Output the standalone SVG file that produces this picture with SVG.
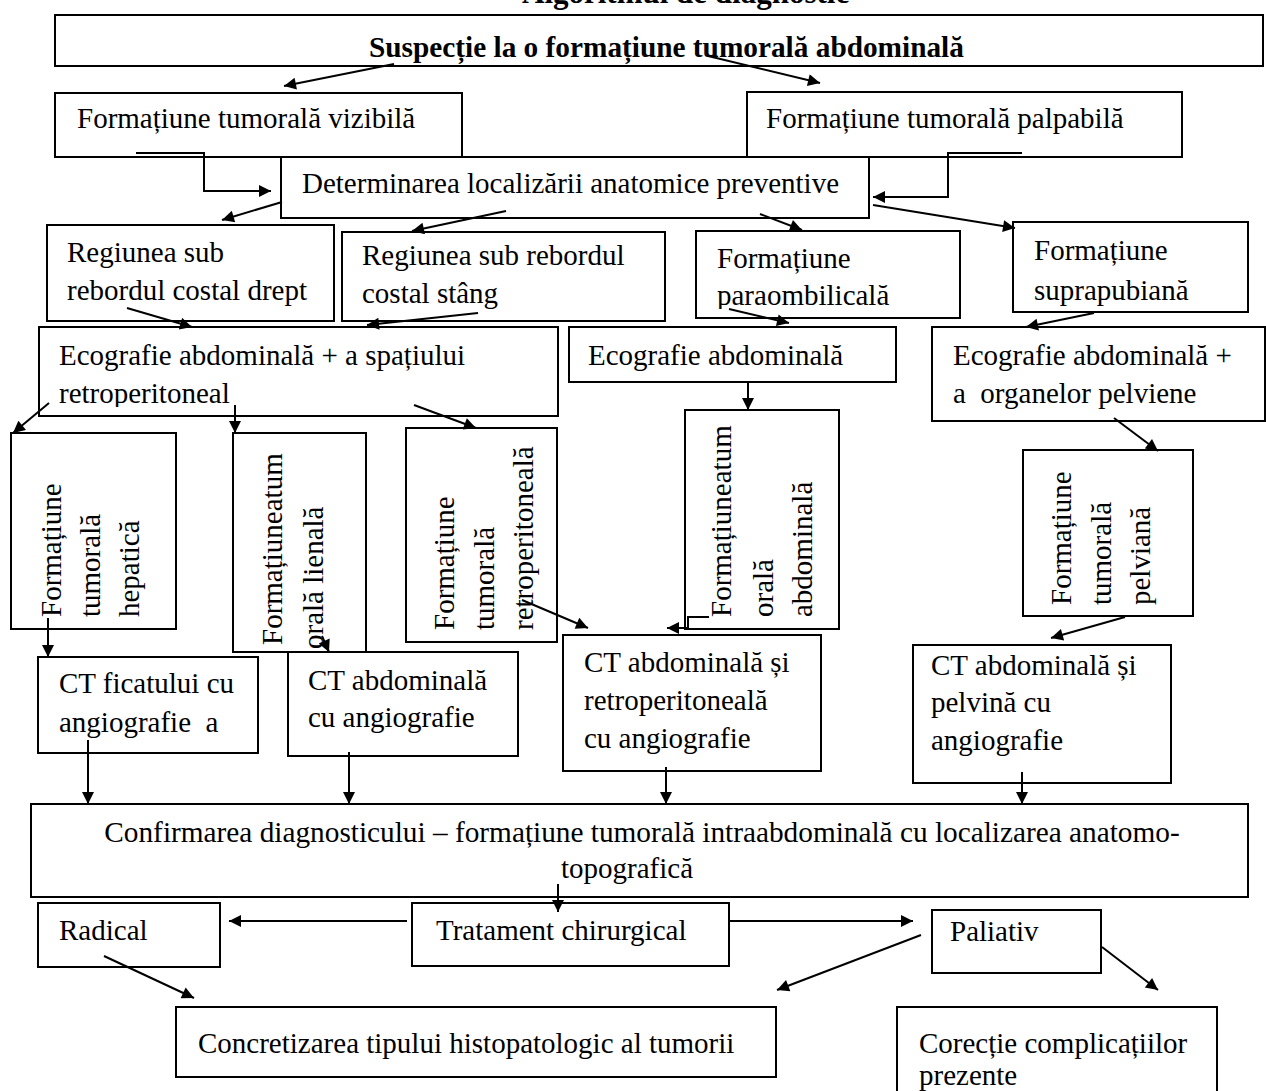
<svg xmlns="http://www.w3.org/2000/svg" width="1266" height="1091" viewBox="0 0 1266 1091">
<style>
.b{fill:#fff;stroke:#000;stroke-width:2}
.t{font-family:"Liberation Serif","Times New Roman",serif;font-size:29px;fill:#000}
.tb{font-family:"Liberation Serif","Times New Roman",serif;font-size:29px;font-weight:bold;fill:#000}
.c{fill:none;stroke:#000;stroke-width:2}
</style>
<defs>
<marker id="ah" viewBox="0 0 10 10" refX="10" refY="5" markerWidth="15" markerHeight="12" markerUnits="userSpaceOnUse" orient="auto"><path d="M0,0 L10,5 L0,10 z" fill="#000"/></marker>
<clipPath id="clipPara"><rect x="696" y="231" width="264" height="78"/></clipPath>
<clipPath id="clipRetro"><rect x="39" y="327" width="519" height="80"/></clipPath>
</defs>
<rect width="1266" height="1091" fill="#fff"/>
<text class="tb" x="522" y="3" style="font-size:31px">Algoritmul de diagnostic</text>

<g id="n-suspectie"><rect class="b" x="55" y="15" width="1208" height="51"/><text class="tb" x="369" y="57" style="font-size:29.3px">Suspecție la o formațiune tumorală abdominală</text></g>
<g id="n-vizibila"><rect class="b" x="55" y="93" width="407" height="64"/><text class="t" x="77" y="128">Formațiune tumorală vizibilă</text></g>
<g id="n-palpabila"><rect class="b" x="747" y="92" width="435" height="65"/><text class="t" x="766" y="128">Formațiune tumorală palpabilă</text></g>
<g id="n-determinarea"><rect class="b" x="281" y="157" width="588" height="61"/><text class="t" x="302" y="193">Determinarea localizării anatomice preventive</text></g>

<g id="n-reg-drept"><rect class="b" x="47" y="225" width="287" height="96"/><text class="t" x="67" y="262">Regiunea sub</text><text class="t" x="67" y="300">rebordul costal drept</text></g>
<g id="n-reg-stang"><rect class="b" x="342" y="232" width="323" height="89"/><text class="t" x="362" y="265">Regiunea sub rebordul</text><text class="t" x="362" y="303">costal stâng</text></g>
<g id="n-paraomb"><rect class="b" x="696" y="231" width="264" height="87"/><g clip-path="url(#clipPara)"><text class="t" x="717" y="268">Formațiune</text><text class="t" x="717" y="305">paraombilicală</text></g></g>
<g id="n-suprapub"><rect class="b" x="1013" y="222" width="235" height="90"/><text class="t" x="1034" y="260">Formațiune</text><text class="t" x="1034" y="300">suprapubiană</text></g>

<g id="n-eco-retro"><rect class="b" x="39" y="327" width="519" height="89"/><g clip-path="url(#clipRetro)"><text class="t" x="59" y="365">Ecografie abdominală + a spațiului</text><text class="t" x="59" y="403">retroperitoneal</text></g></g>
<g id="n-eco-abd"><rect class="b" x="569" y="327" width="327" height="55"/><text class="t" x="588" y="365">Ecografie abdominală</text></g>
<g id="n-eco-pelv"><rect class="b" x="932" y="327" width="333" height="94"/><text class="t" x="953" y="365">Ecografie abdominală +</text><text class="t" x="953" y="403" xml:space="preserve">a  organelor pelviene</text></g>

<g id="n-hepatica"><rect class="b" x="11" y="433" width="165" height="196"/><text class="t" transform="translate(61,617) rotate(-90)">Formațiune</text><text class="t" transform="translate(100,617) rotate(-90)">tumorală</text><text class="t" transform="translate(139,617) rotate(-90)">hepatică</text></g>
<g id="n-lienala"><rect class="b" x="233" y="433" width="133" height="219"/><text class="t" transform="translate(282,645) rotate(-90)">Formațiuneatum</text><text class="t" transform="translate(323,649) rotate(-90)">orală lienală</text></g>
<g id="n-retroperit"><rect class="b" x="406" y="428" width="151" height="214"/><text class="t" transform="translate(454,630) rotate(-90)">Formațiune</text><text class="t" transform="translate(494,630) rotate(-90)">tumorală</text><text class="t" transform="translate(533,630) rotate(-90)">retroperitoneală</text></g>
<g id="n-abdominala"><rect class="b" x="685" y="410" width="154" height="219"/><text class="t" transform="translate(731,617) rotate(-90)">Formațiuneatum</text><text class="t" transform="translate(773,617) rotate(-90)">orală</text><text class="t" transform="translate(812,617) rotate(-90)">abdominală</text></g>
<g id="n-pelviana"><rect class="b" x="1023" y="450" width="170" height="166"/><text class="t" transform="translate(1071,605) rotate(-90)">Formațiune</text><text class="t" transform="translate(1111,605) rotate(-90)">tumorală</text><text class="t" transform="translate(1150,605) rotate(-90)">pelviană</text></g>

<g id="n-ct-ficat"><rect class="b" x="38" y="657" width="220" height="96"/><text class="t" x="59" y="693">CT ficatului cu</text><text class="t" x="59" y="732" xml:space="preserve">angiografie  a</text></g>
<g id="n-ct-abd"><rect class="b" x="288" y="652" width="230" height="104"/><text class="t" x="308" y="690">CT abdominală</text><text class="t" x="308" y="727">cu angiografie</text></g>
<g id="n-ct-retro"><rect class="b" x="563" y="635" width="258" height="136"/><text class="t" x="584" y="672">CT abdominală și</text><text class="t" x="584" y="710">retroperitoneală</text><text class="t" x="584" y="748">cu angiografie</text></g>
<g id="n-ct-pelv"><rect class="b" x="913" y="645" width="258" height="138"/><text class="t" x="931" y="675">CT abdominală și</text><text class="t" x="931" y="712">pelvină cu</text><text class="t" x="931" y="750">angiografie</text></g>

<g id="n-confirmare"><rect class="b" x="31" y="804" width="1217" height="93"/><text class="t" x="642" y="842" text-anchor="middle" style="font-size:29.3px">Confirmarea diagnosticului – formațiune tumorală intraabdominală cu localizarea anatomo-</text><text class="t" x="627" y="878" text-anchor="middle">topografică</text></g>

<g id="n-radical"><rect class="b" x="38" y="903" width="182" height="64"/><text class="t" x="59" y="940">Radical</text></g>
<g id="n-tratament"><rect class="b" x="412" y="903" width="317" height="63"/><text class="t" x="436" y="940">Tratament chirurgical</text></g>
<g id="n-paliativ"><rect class="b" x="932" y="910" width="169" height="63"/><text class="t" x="950" y="941">Paliativ</text></g>
<g id="n-concretizare"><rect class="b" x="176" y="1007" width="600" height="70"/><text class="t" x="198" y="1053">Concretizarea tipului histopatologic al tumorii</text></g>
<g id="n-corectie"><rect class="b" x="897" y="1007" width="320" height="90"/><text class="t" x="919" y="1053">Corecție complicațiilor</text><text class="t" x="919" y="1085">prezente</text></g>

<g id="connectors">
<line class="c" x1="394" y1="64" x2="284" y2="86" marker-end="url(#ah)"/>
<line class="c" x1="708" y1="56" x2="820" y2="83" marker-end="url(#ah)"/>
<polyline class="c" points="136,153 204,153 204,191 271,191" marker-end="url(#ah)"/>
<polyline class="c" points="1022,153 948,153 948,197 873,197" marker-end="url(#ah)"/>
<line class="c" x1="282" y1="202" x2="222" y2="220" marker-end="url(#ah)"/>
<line class="c" x1="506" y1="211" x2="412" y2="231" marker-end="url(#ah)"/>
<line class="c" x1="760" y1="214" x2="802" y2="230" marker-end="url(#ah)"/>
<line class="c" x1="873" y1="205" x2="1015" y2="228" marker-end="url(#ah)"/>
<line class="c" x1="127" y1="308" x2="192" y2="327" marker-end="url(#ah)"/>
<line class="c" x1="478" y1="313" x2="367" y2="325" marker-end="url(#ah)"/>
<line class="c" x1="729" y1="309" x2="789" y2="323" marker-end="url(#ah)"/>
<line class="c" x1="1094" y1="313" x2="1026" y2="327" marker-end="url(#ah)"/>
<line class="c" x1="49" y1="403" x2="13" y2="433" marker-end="url(#ah)"/>
<line class="c" x1="235" y1="405" x2="235" y2="433" marker-end="url(#ah)"/>
<line class="c" x1="414" y1="405" x2="476" y2="428" marker-end="url(#ah)"/>
<line class="c" x1="748" y1="382" x2="748" y2="410" marker-end="url(#ah)"/>
<line class="c" x1="1114" y1="418" x2="1158" y2="451" marker-end="url(#ah)"/>
<line class="c" x1="48" y1="618" x2="48" y2="657" marker-end="url(#ah)"/>
<line class="c" x1="322" y1="636" x2="329" y2="652" marker-end="url(#ah)"/>
<line class="c" x1="522" y1="600" x2="588" y2="628" marker-end="url(#ah)"/>
<polyline class="c" points="709,617 688,617 688,628 667,628" marker-end="url(#ah)"/>
<line class="c" x1="1125" y1="617" x2="1051" y2="638" marker-end="url(#ah)"/>
<line class="c" x1="88" y1="740" x2="88" y2="804" marker-end="url(#ah)"/>
<line class="c" x1="349" y1="752" x2="349" y2="804" marker-end="url(#ah)"/>
<line class="c" x1="666" y1="767" x2="666" y2="804" marker-end="url(#ah)"/>
<line class="c" x1="1022" y1="772" x2="1022" y2="804" marker-end="url(#ah)"/>
<line class="c" x1="558" y1="884" x2="558" y2="912" marker-end="url(#ah)"/>
<line class="c" x1="407" y1="921" x2="229" y2="921" marker-end="url(#ah)"/>
<line class="c" x1="729" y1="921" x2="913" y2="921" marker-end="url(#ah)"/>
<line class="c" x1="921" y1="935" x2="777" y2="990" marker-end="url(#ah)"/>
<line class="c" x1="1102" y1="947" x2="1158" y2="990" marker-end="url(#ah)"/>
<line class="c" x1="104" y1="956" x2="194" y2="998" marker-end="url(#ah)"/>
</g>
</svg>
